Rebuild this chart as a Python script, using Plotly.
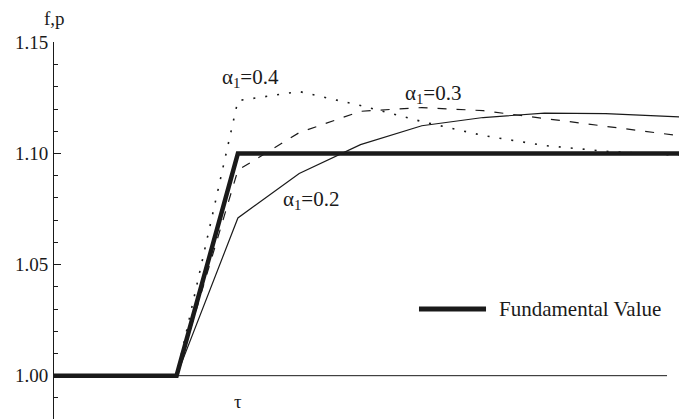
import plotly.graph_objects as go

# ---- data ----
t = [0, 1, 2, 3, 4, 5, 6, 7, 8, 9, 10, 11]
fundamental = [1.00, 1.00, 1.00, 1.10, 1.10, 1.10, 1.10, 1.10, 1.10, 1.10, 1.10, 1.10]
p_a02 = [1.00, 1.00, 1.00, 1.071, 1.091, 1.104, 1.1125, 1.1162, 1.1182, 1.118, 1.117, 1.1155]
p_a03 = [1.00, 1.00, 1.00, 1.0925, 1.1094, 1.119, 1.1207, 1.1193, 1.1157, 1.1121, 1.1087, 1.1052]
p_a04 = [1.00, 1.00, 1.00, 1.1238, 1.1279, 1.1216, 1.1144, 1.1081, 1.1036, 1.101, 1.0995, 1.099]
y_tickvals = [1.00, 1.05, 1.10, 1.15]
y_ticktext = ["1.00", "1.05", "1.10", "1.15"]
labels = ["α<sub>1</sub>=0.4", "α<sub>1</sub>=0.3", "α<sub>1</sub>=0.2"]
label_pos = [(3.20, 1.1341), (6.18, 1.1270), (4.19, 1.0789)]
tau_pos = 3
legend_text = "Fundamental Value"

FONT = "Liberation Serif"
INK = "#1a1a1a"

fig = go.Figure()
fig.add_trace(go.Scatter(x=t, y=p_a02, mode="lines",
                         line=dict(color=INK, width=1.2), showlegend=False))
fig.add_trace(go.Scatter(x=t, y=p_a03, mode="lines",
                         line=dict(color=INK, width=1.2, dash="9px,10px"), showlegend=False))
fig.add_trace(go.Scatter(x=t, y=p_a04, mode="lines",
                         line=dict(color=INK, width=1.6, dash="2px,10px"), showlegend=False))
fig.add_trace(go.Scatter(x=t, y=fundamental, mode="lines",
                         line=dict(color=INK, width=4.5), showlegend=False))

# horizontal axis at f = 1.00
fig.add_shape(type="line", xref="x", yref="y", x0=0, x1=10.0, y0=1.0, y1=1.0,
              line=dict(color=INK, width=1), layer="below")

for txt, (xx, yy) in zip(labels, label_pos):
    fig.add_annotation(x=xx, y=yy, xref="x", yref="y", text=txt, showarrow=False,
                       font=dict(family=FONT, size=21, color=INK))

fig.add_annotation(x=tau_pos, y=1.0, xref="x", yref="y", text="τ", showarrow=False,
                   yshift=-26, font=dict(family=FONT, size=19, color=INK))

# x-axis label, cut off by the right edge as in the original
fig.add_annotation(x=10.27, y=1.0, xref="x", yref="y", text="t", showarrow=False,
                   xanchor="left", yanchor="middle", yshift=2,
                   font=dict(family=FONT, size=19, color=INK))

fig.add_annotation(x=-0.019, y=1.062, xref="paper", yref="paper", text="f,p",
                   showarrow=False, xanchor="left", yanchor="middle",
                   font=dict(family=FONT, size=19, color=INK))

# legend sample
fig.add_shape(type="line", xref="paper", yref="paper", x0=0.5766, x1=0.6825,
              y0=0.2918, y1=0.2918, line=dict(color=INK, width=5))
fig.add_annotation(x=0.6998, y=0.2918, xref="paper", yref="paper", text=legend_text,
                   showarrow=False, xanchor="left", yanchor="middle",
                   font=dict(family=FONT, size=21, color=INK))

fig.update_layout(
    width=687, height=419,
    margin=dict(l=46, r=8, t=34, b=8),
    paper_bgcolor="white", plot_bgcolor="white",
    showlegend=False,
    xaxis=dict(range=[0, 10.326], visible=False),
    yaxis=dict(range=[0.9805, 1.1502], showgrid=False, zeroline=False,
               showline=True, linecolor=INK, linewidth=1,
               ticks="inside", ticklen=7, tickcolor=INK, tickwidth=1,
               tickvals=y_tickvals, ticktext=y_ticktext,
               tickfont=dict(family=FONT, size=19, color=INK),
               ticklabelstandoff=1,
               minor=dict(tick0=1.0, dtick=0.01, ticks="inside", ticklen=4,
                          tickcolor=INK, tickwidth=1, showgrid=False)),
)

fig.write_html("out.html")
